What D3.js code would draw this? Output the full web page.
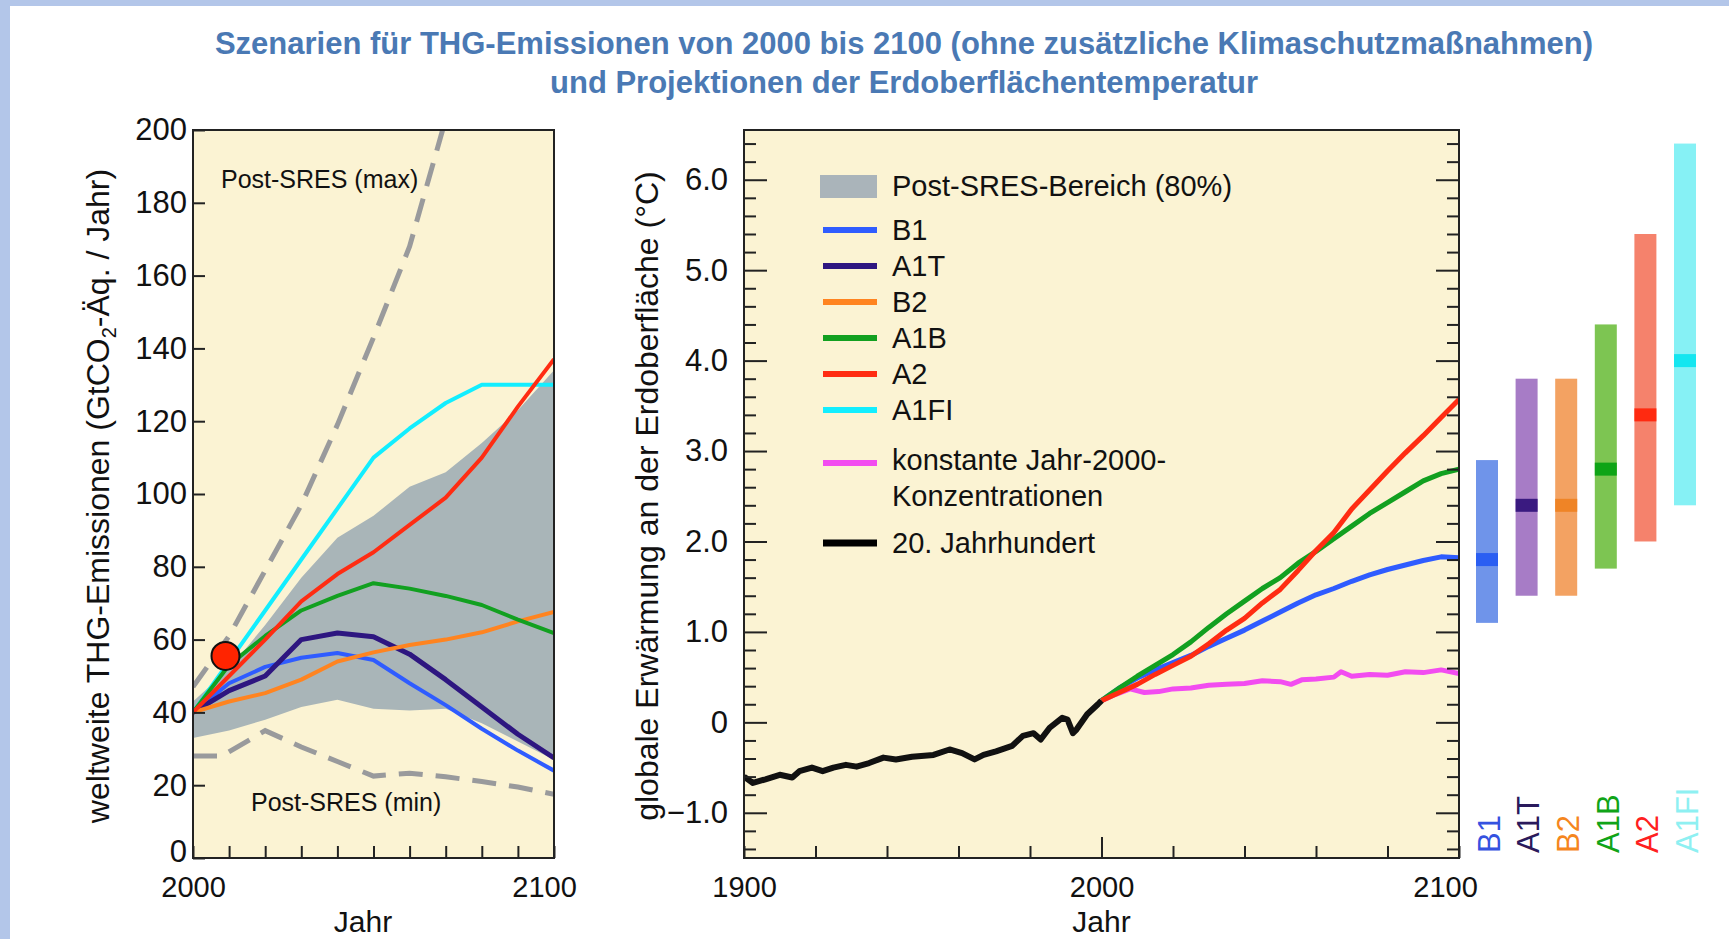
<!DOCTYPE html>
<html>
<head>
<meta charset="utf-8">
<script src="https://cdn.jsdelivr.net/npm/d3@7"></script>
<style>
body { margin: 0; background: #fff; }
svg { display: block; }
text { font-family: "Liberation Sans", Arial, sans-serif; fill: #111; }
</style>
</head>
<body>
<div id="chart"></div>
<script>
// ---- left panel: emissions (GtCO2-eq / year) ----
var emisYears = [2000, 2010, 2020, 2030, 2040, 2050, 2060, 2070, 2080, 2090, 2100];
var emisB1   = [40, 48, 52.5, 55, 56.3, 54.4, 48, 42, 35.5, 29.5, 24];
var emisA1T  = [40, 46, 50, 60, 61.8, 60.8, 56, 49, 41.5, 34, 27.5];
var emisB2   = [40, 43, 45.3, 49, 54, 56.5, 58.5, 60, 62, 65, 67.6];
var emisA1B  = [40, 53, 61, 68, 72, 75.5, 74, 72, 69.5, 65.5, 61.8];
var emisA2   = [40, 50, 60, 70.5, 78, 84, 91.5, 99, 110, 124, 137];
var emisA1FI = [40, 54, 68, 82, 96, 110, 118, 125, 130, 130, 130];
var bandHigh = [43, 52, 64, 77, 88, 94, 102, 106, 114, 123, 134];
var bandLow  = [33, 35, 38, 41.5, 43.5, 41, 40.5, 41, 37, 32, 27];

var sresMaxYears  = [2000, 2010, 2020, 2030, 2040, 2050, 2060, 2070];
var sresMaxValues = [47, 61, 79, 97, 119, 143, 168, 203];
var sresMinYears  = [2000, 2008, 2020, 2030, 2040, 2050, 2060, 2070, 2080, 2090, 2100];
var sresMinValues = [28, 28, 35, 30.5, 26.5, 22.5, 23.3, 22.3, 21, 19.5, 17.5];

var markerPoint = [{year: 2009, value: 55.5}];

// ---- right panel: warming (deg C) ----
var histYears = [1900, 1902.5, 1906, 1910, 1913.5, 1915.5, 1919, 1922, 1925, 1928.5, 1931.5, 1935, 1939, 1942.5, 1947, 1953, 1957.5, 1961, 1964.5, 1967, 1970.5, 1975, 1978, 1981, 1983, 1985.5, 1989, 1990.5, 1992, 1993, 1996, 1999, 2000];
var histTemp  = [-0.60, -0.67, -0.63, -0.58, -0.61, -0.54, -0.50, -0.54, -0.50, -0.47, -0.49, -0.45, -0.39, -0.41, -0.38, -0.36, -0.30, -0.34, -0.41, -0.36, -0.32, -0.26, -0.15, -0.12, -0.19, -0.06, 0.05, 0.03, -0.12, -0.08, 0.09, 0.20, 0.24];

var tempYears = [2000, 2005, 2010, 2015, 2020, 2025, 2030, 2035, 2040, 2045, 2050, 2055, 2060, 2065, 2070, 2075, 2080, 2085, 2090, 2095, 2100];
var tempB1  = [0.24, 0.38, 0.49, 0.58, 0.66, 0.74, 0.84, 0.93, 1.02, 1.12, 1.22, 1.32, 1.41, 1.48, 1.56, 1.63, 1.69, 1.74, 1.79, 1.83, 1.82];
var tempA1B = [0.24, 0.38, 0.51, 0.63, 0.75, 0.89, 1.05, 1.20, 1.34, 1.48, 1.60, 1.76, 1.89, 2.03, 2.17, 2.31, 2.43, 2.55, 2.67, 2.75, 2.80];
var tempA2  = [0.24, 0.33, 0.42, 0.53, 0.63, 0.73, 0.87, 1.02, 1.15, 1.32, 1.47, 1.68, 1.90, 2.10, 2.36, 2.57, 2.78, 2.98, 3.17, 3.37, 3.57];
var constYears = [2000, 2004, 2008, 2012, 2016, 2020, 2025, 2030, 2035, 2040, 2045, 2050, 2053, 2056, 2060, 2065, 2067, 2070, 2075, 2080, 2085, 2090, 2095, 2100];
var constTemp  = [0.24, 0.31, 0.37, 0.33, 0.34, 0.37, 0.38, 0.41, 0.42, 0.43, 0.46, 0.45, 0.42, 0.47, 0.48, 0.50, 0.56, 0.51, 0.53, 0.52, 0.56, 0.55, 0.58, 0.54];

// likely ranges in 2090-2099
var scenNames = ['B1', 'A1T', 'B2', 'A1B', 'A2', 'A1FI'];
var bestEst   = [1.8, 2.4, 2.4, 2.8, 3.4, 4.0];
var rangeLow  = [1.1, 1.4, 1.4, 1.7, 2.0, 2.4];
var rangeHigh = [2.9, 3.8, 3.8, 4.4, 5.4, 6.4];

var legendLabels = ['B1', 'A1T', 'B2', 'A1B', 'A2', 'A1FI'];

var width = 1729,
	height = 939;

var col = {
	B1: '#2f5cff', A1T: '#2e1680', B2: '#ff8420', A1B: '#12a020',
	A2: '#ff2c12', A1FI: '#12eeff', konst: '#f24cf0', hist: '#111'
};
var barCol = {
	B1: '#6f94ea', A1T: '#a77cc6', B2: '#f3a262', A1B: '#7dc552', A2: '#f5826c', A1FI: '#86f1f5'
};
var medCol = {
	B1: '#2a5ef2', A1T: '#3a1a80', B2: '#ef8426', A1B: '#0ea416', A2: '#ff2a10', A1FI: '#14e6f0'
};
var labCol = {
	B1: '#3552e0', A1T: '#2a1a5c', B2: '#f5861e', A1B: '#10a418', A2: '#ff2020', A1FI: '#8ef0f2'
};

var svg = d3.select('#chart').append('svg')
	.attr('width', width)
	.attr('height', height);

svg.append('rect').attr('width', width).attr('height', height).attr('fill', '#fff');
svg.append('rect').attr('width', width).attr('height', 6).attr('fill', '#b3c6e9');
svg.append('rect').attr('width', 10).attr('height', height).attr('fill', '#b3c6e9');

// title
var title = svg.append('g')
	.attr('font-weight', 'bold')
	.attr('font-size', 31)
	.attr('text-anchor', 'middle');
title.append('text').attr('x', 904).attr('y', 54).style('fill', '#4a79b4')
	.text('Szenarien für THG-Emissionen von 2000 bis 2100 (ohne zusätzliche Klimaschutzmaßnahmen)');
title.append('text').attr('x', 904).attr('y', 93).style('fill', '#4a79b4')
	.text('und Projektionen der Erdoberflächentemperatur');

var defs = svg.append('defs');

// ================= left panel =================
var xE = d3.scaleLinear().domain([2000, 2100]).range([193, 554]);
var yE = d3.scaleLinear().domain([0, 200]).range([858, 130]);

defs.append('clipPath').attr('id', 'clipE')
	.append('rect')
	.attr('x', xE(2000)).attr('y', yE(200))
	.attr('width', xE(2100) - xE(2000)).attr('height', yE(0) - yE(200));

var left = svg.append('g');

left.append('rect')
	.attr('x', xE(2000)).attr('y', yE(200))
	.attr('width', xE(2100) - xE(2000)).attr('height', yE(0) - yE(200))
	.attr('fill', '#fbf3d3');

var plotE = left.append('g').attr('clip-path', 'url(#clipE)');

var band = d3.area()
	.x(function(d, i) { return xE(emisYears[i]); })
	.y0(function(d, i) { return yE(bandLow[i]); })
	.y1(function(d) { return yE(d); });

plotE.append('path')
	.attr('d', band(bandHigh))
	.attr('fill', '#a9b5b8');

var lineE = d3.line()
	.x(function(d) { return xE(d[0]); })
	.y(function(d) { return yE(d[1]); });

function pairs(xs, ys) {
	return xs.map(function(x, i) { return [x, ys[i]]; });
}

[[sresMaxYears, sresMaxValues], [sresMinYears, sresMinValues]].forEach(function(s) {
	plotE.append('path')
		.attr('d', lineE(pairs(s[0], s[1])))
		.attr('fill', 'none')
		.attr('stroke', '#999a9c')
		.attr('stroke-width', 5)
		.attr('stroke-dasharray', '24,13');
});

var emisSeries = [
	{id: 'A1FI', values: emisA1FI},
	{id: 'B1', values: emisB1},
	{id: 'A1T', values: emisA1T},
	{id: 'B2', values: emisB2},
	{id: 'A1B', values: emisA1B},
	{id: 'A2', values: emisA2}
];

plotE.selectAll('.emis')
	.data(emisSeries)
	.enter().append('path')
	.attr('class', 'emis')
	.attr('d', function(d) { return lineE(pairs(emisYears, d.values)); })
	.attr('fill', 'none')
	.attr('stroke', function(d) { return col[d.id]; })
	.attr('stroke-width', function(d) { return d.id === 'A1T' ? 5 : 4; })
	.attr('stroke-linejoin', 'round');

left.selectAll('.marker')
	.data(markerPoint)
	.enter().append('circle')
	.attr('cx', function(d) { return xE(d.year); })
	.attr('cy', function(d) { return yE(d.value); })
	.attr('r', 14)
	.attr('fill', '#ff2400')
	.attr('stroke', '#111')
	.attr('stroke-width', 2);

left.append('text').attr('x', 221).attr('y', 188).attr('font-size', 25).text('Post-SRES (max)');
left.append('text').attr('x', 251).attr('y', 811).attr('font-size', 25).text('Post-SRES (min)');

var yAxisE = d3.axisLeft(yE)
	.tickValues(d3.range(0, 201, 20))
	.tickSize(-12)
	.tickPadding(6);
var yAxE = left.append('g')
	.attr('class', 'yax')
	.attr('transform', 'translate(' + xE(2000) + ',0)')
	.call(yAxisE)
	.call(function(g) { g.select('.domain').remove(); });
// the "0" label sits a little above its tick
yAxE.selectAll('.tick text')
	.filter(function(d) { return d === 0; })
	.attr('dy', '0.12em');

var xAxisE = d3.axisBottom(xE)
	.tickValues(d3.range(2000, 2101, 10))
	.tickSize(-12)
	.tickPadding(18)
	.tickFormat(function(d) { return (d === 2000 || d === 2100) ? d : ''; });
left.append('g')
	.attr('transform', 'translate(0,' + yE(0) + ')')
	.call(xAxisE)
	.call(function(g) { g.select('.domain').remove(); })
	.selectAll('.tick text')
	.filter(function(d) { return d === 2100; })
	.attr('dx', -10);

left.append('rect')
	.attr('x', xE(2000)).attr('y', yE(200))
	.attr('width', xE(2100) - xE(2000)).attr('height', yE(0) - yE(200))
	.attr('fill', 'none')
	.attr('stroke', '#222')
	.attr('stroke-width', 2);

left.append('text')
	.attr('x', 363).attr('y', 932)
	.attr('font-size', 30)
	.attr('text-anchor', 'middle')
	.text('Jahr');

var yTitleE = left.append('text')
	.attr('transform', 'translate(109,496) rotate(-90)')
	.attr('font-size', 32)
	.attr('text-anchor', 'middle');
yTitleE.append('tspan').text('weltweite THG-Emissionen (GtCO');
yTitleE.append('tspan').attr('font-size', 20).attr('dy', 7).text('2');
yTitleE.append('tspan').attr('dy', -7).text('-Äq. / Jahr)');

// ================= right panel =================
var xT = d3.scaleLinear().domain([1900, 2100]).range([744, 1459]);
var yT = d3.scaleLinear().domain([-1.5, 6.55]).range([858, 130]);

defs.append('clipPath').attr('id', 'clipT')
	.append('rect')
	.attr('x', xT(1900)).attr('y', yT(6.55))
	.attr('width', xT(2100) - xT(1900)).attr('height', yT(-1.5) - yT(6.55));

var right = svg.append('g');

right.append('rect')
	.attr('x', xT(1900)).attr('y', yT(6.55))
	.attr('width', xT(2100) - xT(1900)).attr('height', yT(-1.5) - yT(6.55))
	.attr('fill', '#fbf3d3');

var plotT = right.append('g').attr('clip-path', 'url(#clipT)');

var lineT = d3.line()
	.x(function(d) { return xT(d[0]); })
	.y(function(d) { return yT(d[1]); });

var tempSeries = [
	{id: 'konst', xs: constYears, values: constTemp},
	{id: 'B1', xs: tempYears, values: tempB1},
	{id: 'A1B', xs: tempYears, values: tempA1B},
	{id: 'A2', xs: tempYears, values: tempA2},
	{id: 'hist', xs: histYears, values: histTemp}
];

plotT.selectAll('.temp')
	.data(tempSeries)
	.enter().append('path')
	.attr('class', 'temp')
	.attr('d', function(d) { return lineT(pairs(d.xs, d.values)); })
	.attr('fill', 'none')
	.attr('stroke', function(d) { return col[d.id]; })
	.attr('stroke-width', function(d) { return d.id === 'hist' ? 6 : 5; })
	.attr('stroke-linejoin', 'round');

// axes
var majorT = d3.range(-1, 6.5, 1);
var minorT = d3.range(-1.4, 6.5, 0.2).filter(function(v) {
	return Math.abs(v - Math.round(v)) > 0.01;
});
var fmtT = function(d) { return d === 0 ? '0' : d3.format('.1f')(d); };

right.append('g')
	.attr('class', 'yax')
	.attr('transform', 'translate(' + xT(1900) + ',0)')
	.call(d3.axisLeft(yT).tickValues(majorT).tickSize(-23).tickPadding(16).tickFormat(fmtT))
	.call(function(g) { g.select('.domain').remove(); });
right.append('g')
	.attr('transform', 'translate(' + xT(1900) + ',0)')
	.call(d3.axisLeft(yT).tickValues(minorT).tickSize(-12).tickFormat(''))
	.call(function(g) { g.select('.domain').remove(); });
right.append('g')
	.attr('transform', 'translate(' + xT(2100) + ',0)')
	.call(d3.axisRight(yT).tickValues(majorT).tickSize(-23).tickFormat(''))
	.call(function(g) { g.select('.domain').remove(); });
right.append('g')
	.attr('transform', 'translate(' + xT(2100) + ',0)')
	.call(d3.axisRight(yT).tickValues(minorT).tickSize(-12).tickFormat(''))
	.call(function(g) { g.select('.domain').remove(); });

var xAxT = right.append('g')
	.attr('transform', 'translate(0,' + yT(-1.5) + ')')
	.call(d3.axisBottom(xT)
		.tickValues(d3.range(1900, 2101, 20))
		.tickSize(-12)
		.tickPadding(18)
		.tickFormat(function(d) { return d % 100 === 0 ? d : ''; }))
	.call(function(g) { g.select('.domain').remove(); });
xAxT.selectAll('.tick line')
	.filter(function(d) { return d === 2000; })
	.attr('y2', -21);
xAxT.selectAll('.tick text')
	.filter(function(d) { return d === 2100; })
	.attr('dx', -14);

right.append('rect')
	.attr('x', xT(1900)).attr('y', yT(6.55))
	.attr('width', xT(2100) - xT(1900)).attr('height', yT(-1.5) - yT(6.55))
	.attr('fill', 'none')
	.attr('stroke', '#222')
	.attr('stroke-width', 2);

right.append('text')
	.attr('x', xT(2000)).attr('y', 932)
	.attr('font-size', 30)
	.attr('text-anchor', 'middle')
	.text('Jahr');

right.append('text')
	.attr('transform', 'translate(658,496) rotate(-90)')
	.attr('font-size', 32)
	.attr('text-anchor', 'middle')
	.text('globale Erwärmung an der Erdoberfläche (°C)');

svg.selectAll('.tick text')
	.attr('font-size', 29)
	.style('fill', '#111');
svg.selectAll('.yax .tick text')
	.attr('font-size', 31);
svg.selectAll('.tick line')
	.attr('stroke', '#222')
	.attr('stroke-width', 2);

// legend
var legend = right.append('g').attr('font-size', 29);
var legendRowY = [230, 266, 302, 338, 374, 410];

legend.append('rect')
	.attr('x', 820).attr('y', 175)
	.attr('width', 57).attr('height', 23)
	.attr('fill', '#aab4ba');
legend.append('text').attr('x', 892).attr('y', 186).attr('dy', '0.35em')
	.text('Post-SRES-Bereich (80%)');

legendLabels.forEach(function(id, i) {
	legend.append('line')
		.attr('x1', 823).attr('x2', 877)
		.attr('y1', legendRowY[i]).attr('y2', legendRowY[i])
		.attr('stroke', col[id]).attr('stroke-width', 6);
	legend.append('text').attr('x', 892).attr('y', legendRowY[i]).attr('dy', '0.35em').text(id);
});

legend.append('line')
	.attr('x1', 823).attr('x2', 877).attr('y1', 463).attr('y2', 463)
	.attr('stroke', col.konst).attr('stroke-width', 6);
legend.append('text').attr('x', 892).attr('y', 460).attr('dy', '0.35em').text('konstante Jahr-2000-');
legend.append('text').attr('x', 892).attr('y', 496).attr('dy', '0.35em').text('Konzentrationen');

legend.append('line')
	.attr('x1', 823).attr('x2', 877).attr('y1', 543).attr('y2', 543)
	.attr('stroke', '#000').attr('stroke-width', 7);
legend.append('text').attr('x', 892).attr('y', 543).attr('dy', '0.35em').text('20. Jahrhundert');

// ================= likely range bars =================
var xBar = d3.scalePoint().domain(scenNames).range([1487, 1685]);
var barW = 22;

var bars = svg.append('g');
var bar = bars.selectAll('.bar')
	.data(scenNames)
	.enter().append('g')
	.attr('class', 'bar');

bar.append('rect')
	.attr('x', function(d) { return xBar(d) - barW / 2; })
	.attr('y', function(d, i) { return yT(rangeHigh[i]); })
	.attr('width', barW)
	.attr('height', function(d, i) { return yT(rangeLow[i]) - yT(rangeHigh[i]); })
	.attr('fill', function(d) { return barCol[d]; });

bar.append('rect')
	.attr('x', function(d) { return xBar(d) - barW / 2; })
	.attr('y', function(d, i) { return yT(bestEst[i]) - 6.5; })
	.attr('width', barW)
	.attr('height', 13)
	.attr('fill', function(d) { return medCol[d]; });

bar.append('text')
	.attr('transform', function(d) { return 'translate(' + (xBar(d) + 2) + ',853) rotate(-90)'; })
	.attr('dy', '0.35em')
	.attr('font-size', 31)
	.style('fill', function(d) { return labCol[d]; })
	.text(function(d) { return d; });
</script>
</body>
</html>
